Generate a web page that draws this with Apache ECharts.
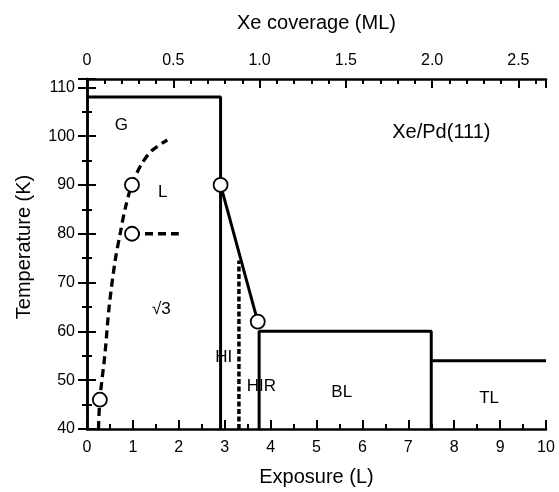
<!DOCTYPE html>
<html>
<head>
<meta charset="utf-8">
<script src="https://cdn.jsdelivr.net/npm/echarts@6/dist/echarts.min.js"></script>
<style>html,body{margin:0;padding:0;background:#fff;}#chart{width:559px;height:492px;}</style>
</head>
<body>
<div id="chart"></div>
<script>
// ---- Data ----
var exposureRange = [0, 10];
var temperatureRange = [40, 111.7];
var coverageRange = [0, 2.66];

// Phase boundaries (exposure L, temperature K)
var gBoundary = [[0, 108], [2.91, 108], [2.91, 40]];
var slantBoundary = [[2.91, 90], [3.72, 62]];
var blBoundary = [[3.75, 40], [3.75, 60], [7.5, 60], [7.5, 40]];
var tlBoundary = [[7.5, 54], [10, 54]];
var hirDotted = [[3.31, 40], [3.31, 74.5]];
var gasCurve = [[0.25, 40], [0.28, 46], [0.39, 55.3], [0.48, 64.8], [0.61, 74.3], [0.73, 80.4], [0.83, 85.1], [0.98, 90.1], [1.19, 94.3], [1.41, 97], [1.75, 99.2]];
var liquidLine = [[0.98, 80], [2.0, 80]];
var openPoints = [[0.28, 46], [0.98, 90], [0.98, 80], [2.91, 90], [3.72, 62]];

// Region labels
var regionNames = ['G', 'L', '\u221A3', 'HI', 'HIR', 'BL', 'TL'];
var regionX = [0.75, 1.65, 1.62, 2.98, 3.8, 5.55, 8.76];
var regionY = [102.2, 88.5, 64.5, 54.6, 48.7, 47.5, 46.2];
var systemName = ['Xe/Pd(111)'];
var systemX = [7.72];
var systemY = [100.7];

// ---- Chart ----
var FONT = '"Liberation Sans", Arial, Helvetica, sans-serif';
var chart = echarts.init(document.getElementById('chart'), null, {renderer: 'canvas'});

function majorLine() { return {show: true, lineStyle: {color: '#000', width: 2.5}}; }
function noLabel() { return {show: false}; }

var regionData = regionNames.map(function (n, i) { return {name: n, value: [regionX[i], regionY[i]]}; });
var systemData = systemName.map(function (n, i) { return {name: n, value: [systemX[i], systemY[i]]}; });

function solid(data) {
  return {type: 'line', data: data, showSymbol: false, symbol: 'none', z: 3,
    lineStyle: {color: '#000', width: 3}, silent: true};
}
function textLabel(size) {
  return {show: true, position: 'inside', formatter: '{b}', color: '#000', opacity: 1,
    textBorderWidth: 0, textBorderColor: 'transparent', fontSize: size, fontFamily: FONT};
}

var option = {
  animation: false,
  backgroundColor: '#fff',
  textStyle: {fontFamily: FONT, color: '#000'},
  grid: {left: 87, right: 13, top: 79, bottom: 60, containLabel: false},
  xAxis: [
    {type: 'value', position: 'bottom', min: exposureRange[0], max: exposureRange[1], interval: 1,
      axisLine: majorLine(), axisTick: {inside: true, length: 9, lineStyle: {color: '#000', width: 2}},
      axisLabel: {fontSize: 16, color: '#000', margin: 11, fontFamily: FONT},
      splitLine: {show: false},
      name: 'Exposure (L)', nameLocation: 'middle', nameGap: 38,
      nameTextStyle: {fontSize: 20, color: '#000', fontFamily: FONT}},
    {type: 'value', position: 'bottom', min: exposureRange[0], max: exposureRange[1], interval: 0.5,
      axisLine: {show: false}, axisTick: {inside: true, length: 5, lineStyle: {color: '#000', width: 2}},
      axisLabel: noLabel(), splitLine: {show: false}},
    {type: 'value', position: 'top', min: coverageRange[0], max: coverageRange[1], interval: 0.5,
      axisLine: majorLine(), axisTick: {inside: true, length: 9, lineStyle: {color: '#000', width: 2}},
      axisLabel: {fontSize: 16, color: '#000', margin: 10, fontFamily: FONT,
        formatter: function (v) {
          var k = v / 0.5;
          if (Math.abs(k - Math.round(k)) > 1e-6) return '';
          return v === 0 ? '0' : v.toFixed(1);
        }},
      splitLine: {show: false},
      name: 'Xe coverage (ML)', nameLocation: 'middle', nameGap: 46,
      nameTextStyle: {fontSize: 20, color: '#000', fontFamily: FONT}},
    {type: 'value', position: 'top', min: coverageRange[0], max: coverageRange[1], interval: 0.1,
      axisLine: {show: false}, axisTick: {inside: true, length: 5, lineStyle: {color: '#000', width: 2}},
      axisLabel: noLabel(), splitLine: {show: false}}
  ],
  yAxis: [
    {type: 'value', position: 'left', min: temperatureRange[0], max: temperatureRange[1], interval: 10,
      axisLine: majorLine(), axisTick: {inside: true, length: 9, lineStyle: {color: '#000', width: 2}},
      axisLabel: {fontSize: 16, color: '#000', margin: 12, fontFamily: FONT,
        formatter: function (v) { return (Math.abs(v / 10 - Math.round(v / 10)) > 1e-6) ? '' : String(v); }},
      splitLine: {show: false},
      name: 'Temperature (K)', nameLocation: 'middle', nameGap: 53, nameRotate: 90,
      nameTextStyle: {fontSize: 20, color: '#000', fontFamily: FONT, padding: [0, 0, 0, 14]}},
    {type: 'value', position: 'left', min: temperatureRange[0], max: temperatureRange[1], interval: 5,
      axisLine: {show: false}, axisTick: {inside: true, length: 5, lineStyle: {color: '#000', width: 2}},
      axisLabel: noLabel(), splitLine: {show: false}},
    {type: 'value', position: 'right', min: temperatureRange[0], max: temperatureRange[1], interval: 10,
      axisLine: majorLine(), axisTick: {inside: true, length: 9, lineStyle: {color: '#000', width: 2}},
      axisLabel: noLabel(), splitLine: {show: false}},
    {type: 'value', position: 'right', min: temperatureRange[0], max: temperatureRange[1], interval: 5,
      axisLine: {show: false}, axisTick: {inside: true, length: 5, lineStyle: {color: '#000', width: 2}},
      axisLabel: noLabel(), splitLine: {show: false}}
  ],
  series: [
    solid(gBoundary),
    solid(slantBoundary),
    solid(blBoundary),
    solid(tlBoundary),
    {type: 'line', data: hirDotted, showSymbol: false, symbol: 'none', z: 3, silent: true,
      lineStyle: {color: '#000', width: 3.5, type: [5, 2.5]}},
    {type: 'line', data: gasCurve, showSymbol: false, symbol: 'none', smooth: 0.3, z: 3, silent: true,
      lineStyle: {color: '#000', width: 3.3, type: [8, 5]}},
    {type: 'line', data: liquidLine, showSymbol: false, symbol: 'none', z: 3, silent: true,
      lineStyle: {color: '#000', width: 3.3, type: [8, 5]}},
    {type: 'scatter', data: openPoints, symbol: 'circle', symbolSize: 14, z: 5, silent: true,
      itemStyle: {color: '#fff', opacity: 1, borderColor: '#000', borderWidth: 1.8}},
    {type: 'scatter', data: regionData, symbol: 'circle', symbolSize: 1, z: 6, silent: true,
      itemStyle: {color: 'rgba(0,0,0,0)'},
      label: textLabel(17)},
    {type: 'scatter', data: systemData, symbol: 'circle', symbolSize: 1, z: 6, silent: true,
      itemStyle: {color: 'rgba(0,0,0,0)'},
      label: textLabel(20)}
  ]
};
chart.setOption(option);
</script>
</body>
</html>
